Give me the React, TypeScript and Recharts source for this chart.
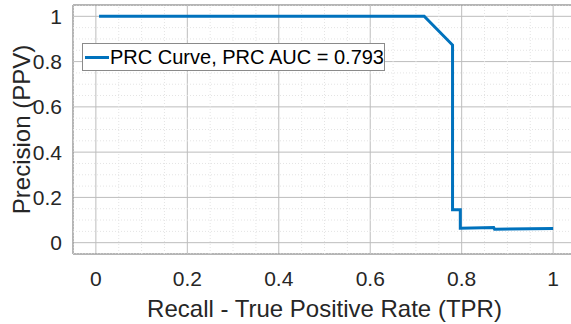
import React from "react";
import {
  LineChart,
  Line,
  XAxis,
  YAxis,
  CartesianGrid,
  ReferenceLine,
  ReferenceArea,
} from "recharts";

const recall = [0.007, 0.718, 0.78, 0.78, 0.797, 0.797, 0.87, 0.872, 1.0];
const precision = [1, 1, 0.873, 0.146, 0.146, 0.064, 0.067, 0.059, 0.063];
const majorTicks = [0, 0.2, 0.4, 0.6, 0.8, 1];
const minorTicks = [
  -0.05, 0.05, 0.1, 0.15, 0.25, 0.3, 0.35, 0.45, 0.5, 0.55, 0.65, 0.7, 0.75,
  0.85, 0.9, 0.95, 1.05,
];
const seriesName = "PRC Curve, PRC AUC = 0.793";

const data = recall.map((r, i) => ({ x: r, y: precision[i] }));

const FONT = "'Liberation Sans', Arial, Helvetica, sans-serif";
const BLUE = "#0072BD";

const LegendBox = () => (
  <div
    style={{
      position: "absolute",
      left: 82,
      top: 43,
      display: "flex",
      alignItems: "center",
      background: "#fff",
      border: "1px solid #8a8a8a",
      height: 28,
      width: 303,
      boxSizing: "border-box",
      fontFamily: FONT,
      fontSize: 20,
      color: "#000",
    }}
  >
    <div style={{ width: 24, height: 3, background: BLUE, marginLeft: 2, marginRight: 1 }} />
    <span style={{ whiteSpace: "nowrap" }}>{seriesName}</span>
  </div>
);

export default function App() {
  return (
    <div style={{ position: "absolute", left: 0, top: 0, width: 571, height: 324, overflow: "hidden", background: "#fff" }}>
      <LineChart
        width={580}
        height={324}
        data={data}
        margin={{ top: 5, right: 4, left: 0, bottom: 0 }}
        style={{ fontFamily: FONT }}
      >
        <CartesianGrid stroke="#bdbdbd" strokeWidth={1} />
        {minorTicks.map((t) => (
          <ReferenceLine key={"vx" + t} x={t} stroke="#e4e4e4" strokeDasharray="1 2" ifOverflow="hidden" />
        ))}
        {minorTicks.map((t) => (
          <ReferenceLine key={"hy" + t} y={t} stroke="#e4e4e4" strokeDasharray="1 2" ifOverflow="hidden" />
        ))}
        <XAxis
          type="number"
          dataKey="x"
          domain={[-0.05, 1.05]}
          ticks={majorTicks}
          height={70}
          axisLine={false}
          tickLine={false}
          tickMargin={11}
          tick={{ fontSize: 21, fill: "#262626", fontFamily: FONT }}
          allowDataOverflow
          label={{
            value: "Recall - True Positive Rate (TPR)",
            position: "insideBottom",
            offset: 7,
            style: { fontSize: 24, fill: "#262626", fontFamily: FONT, textAnchor: "middle" },
          }}
        />
        <YAxis
          type="number"
          domain={[-0.05, 1.05]}
          ticks={majorTicks}
          width={73}
          axisLine={false}
          tickLine={false}
          tickMargin={5}
          tick={{ fontSize: 21, fill: "#262626", fontFamily: FONT }}
          allowDataOverflow
          label={{
            value: "Precision (PPV)",
            angle: -90,
            position: "insideLeft",
            offset: 21,
            style: { fontSize: 24, fill: "#262626", fontFamily: FONT, textAnchor: "middle" },
          }}
        />
        <ReferenceArea
          x1={-0.05}
          x2={1.05}
          y1={-0.05}
          y2={1.05}
          fill="none"
          stroke="#8c8c8c"
          strokeWidth={1}
          ifOverflow="visible"
        />
        <Line
          type="linear"
          dataKey="y"
          name={seriesName}
          stroke={BLUE}
          strokeWidth={3}
          dot={false}
          isAnimationActive={false}
        />
      </LineChart>
      <LegendBox />
    </div>
  );
}
